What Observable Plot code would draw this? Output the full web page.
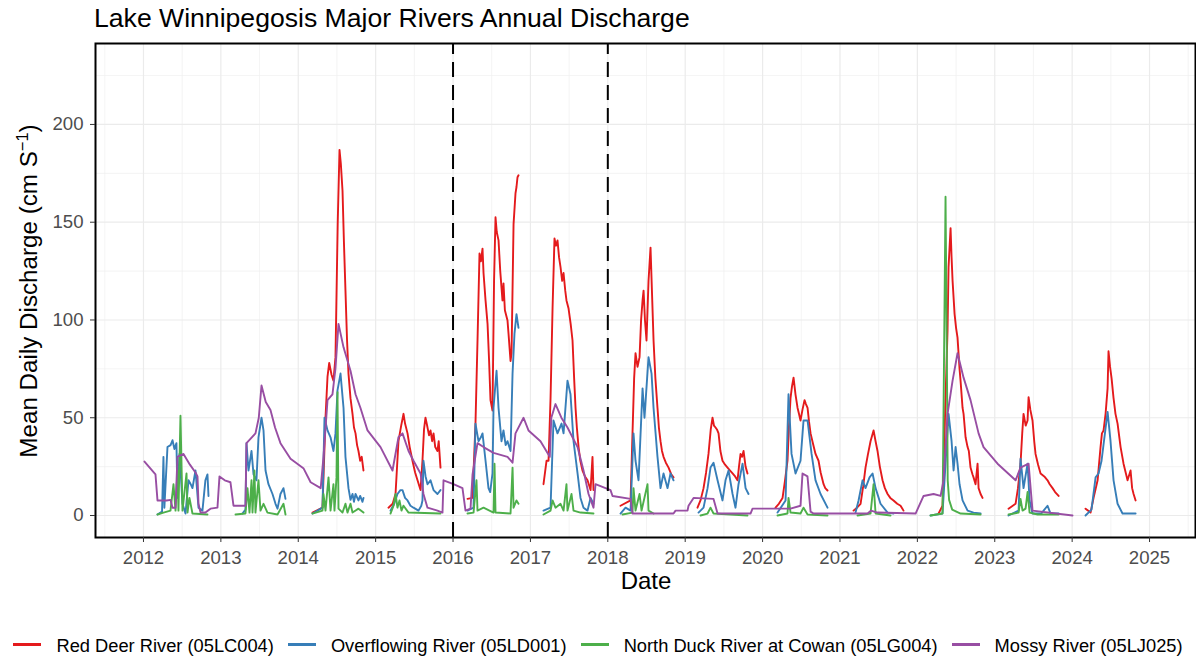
<!DOCTYPE html>
<html>
<head>
<meta charset="utf-8">
<script src="https://cdn.jsdelivr.net/npm/d3@7"></script>
<script src="https://cdn.jsdelivr.net/npm/@observablehq/plot@0.6"></script>
<style>
  body { margin: 0; background: #ffffff; }
  #wrap { position: relative; width: 1196px; height: 657px; font-family: "Liberation Sans", Arial, Helvetica, sans-serif; color: #000; overflow: hidden; }
  #chart { position: absolute; left: 0; top: 0; }
  #title { position: absolute; left: 94px; top: 4.5px; font-size: 26.6px; line-height: 1; white-space: nowrap; }
  #ylab { position: absolute; left: 29px; top: 291px; font-size: 24.2px; line-height: 1; white-space: nowrap; transform: translate(-50%, -50%) rotate(-90deg); }
  #ylab .sup { font-size: 0.68em; position: relative; top: -0.55em; line-height: 0; }
  #xlab { position: absolute; left: 646px; top: 568.5px; font-size: 24px; line-height: 1; white-space: nowrap; transform: translateX(-50%); }
  #legend { position: absolute; left: 0; top: 637px; width: 1196px; height: 19px; display: flex; justify-content: center; align-items: center; font-size: 18.3px; line-height: 1; white-space: nowrap; }
  #legend .item { display: flex; align-items: center; margin: 0 7px; }
  #legend .key { width: 28px; height: 2.8px; margin-right: 15px; position: relative; top: -2px; }
  svg g[aria-label="x-axis tick label"], svg g[aria-label="y-axis tick label"] { fill: #4D4D4D; }
  svg g[aria-label="x-axis tick"], svg g[aria-label="y-axis tick"] { stroke: #333333; }
</style>
</head>
<body>
<div id="wrap">
  <div id="chart"></div>
  <div id="title">Lake Winnipegosis Major Rivers Annual Discharge</div>
  <div id="ylab">Mean Daily Discharge (cm S<span class="sup">−1</span>)</div>
  <div id="xlab">Date</div>
  <div id="legend"></div>
</div>
<script>
// ---------- data (decimal year, mean daily discharge) ; null = gap ----------
const seriesNames = ["Red Deer River (05LC004)", "Overflowing River (05LD001)", "North Duck River at Cowan (05LG004)", "Mossy River (05LJ025)"];
const seriesColors = ["#E41A1C", "#377EB8", "#4DAF4A", "#984EA3"];
const xTicks = [2012, 2013, 2014, 2015, 2016, 2017, 2018, 2019, 2020, 2021, 2022, 2023, 2024, 2025];
const yTicks = [0, 50, 100, 150, 200];
const dashedYears = [2016, 2018];

const redDeer = [
  [2014.184,1.5],[2014.313,4],[2014.352,50],[2014.378,71],[2014.40,78],[2014.43,72],[2014.455,69],[2014.481,81],[2014.51,150],[2014.533,187],[2014.55,180],[2014.572,166],[2014.59,140],[2014.610,115],[2014.63,90],[2014.649,72.6],[2014.675,60],[2014.701,52],[2014.72,45],[2014.740,42],[2014.76,36],[2014.778,33],[2014.80,28],[2014.82,30],[2014.843,23], null,
  [2015.166,4],[2015.22,6],[2015.257,11],[2015.295,38],[2015.33,46],[2015.360,52],[2015.38,47],[2015.412,42],[2015.44,35],[2015.476,28],[2015.51,22],[2015.541,18],[2015.580,13],[2015.605,28],[2015.625,44],[2015.644,50],[2015.665,46],[2015.69,41],[2015.709,43.5],[2015.73,38],[2015.748,42],[2015.77,35],[2015.799,33],[2015.815,38],[2015.838,24.5], null,
  [2016.187,8.5],[2016.252,9],[2016.29,47],[2016.316,89],[2016.342,134],[2016.36,130],[2016.381,136.5],[2016.394,124],[2016.42,110],[2016.446,98],[2016.465,80],[2016.484,59],[2016.51,53.7],[2016.53,120],[2016.549,152.5],[2016.565,145],[2016.588,140.7],[2016.61,125],[2016.639,110],[2016.652,118.7],[2016.67,105],[2016.704,99.7],[2016.717,93],[2016.743,79],[2016.756,83],[2016.782,149],[2016.807,164.7],[2016.82,168],[2016.833,173],[2016.846,174], null,
  [2017.169,16],[2017.208,28],[2017.234,28],[2017.26,60],[2017.286,106],[2017.311,141.7],[2017.33,138],[2017.350,140.7],[2017.37,132],[2017.389,127],[2017.41,120],[2017.428,124],[2017.45,115],[2017.466,110],[2017.492,106],[2017.52,98],[2017.544,89.5],[2017.565,70],[2017.583,55],[2017.60,45],[2017.622,35],[2017.645,28],[2017.673,23],[2017.705,20],[2017.738,18],[2017.777,13],[2017.802,30],[2017.815,13], null,
  [2018.164,5],[2018.294,7.7],[2018.319,42],[2018.34,70],[2018.358,83],[2018.384,76],[2018.410,81],[2018.43,100],[2018.449,110],[2018.462,115],[2018.48,100],[2018.500,89.5],[2018.526,120],[2018.552,137],[2018.57,115],[2018.591,89.5],[2018.615,70],[2018.642,55],[2018.66,45],[2018.681,38],[2018.70,33],[2018.720,30],[2018.75,27],[2018.785,24.5],[2018.82,21],[2018.849,19.5], null,
  [2019.159,4],[2019.20,8],[2019.237,14],[2019.27,22],[2019.301,31.5],[2019.33,44],[2019.353,50],[2019.372,46],[2019.392,45],[2019.41,44],[2019.431,42],[2019.455,33],[2019.482,28],[2019.515,26],[2019.547,24.5],[2019.58,23],[2019.612,21.5],[2019.645,20],[2019.676,18],[2019.695,25],[2019.715,31.5],[2019.735,30],[2019.754,33],[2019.78,25],[2019.805,21.5], null,
  [2020.167,4],[2020.21,6],[2020.258,9],[2020.29,18],[2020.322,28],[2020.34,45],[2020.361,60],[2020.38,66],[2020.400,70.5],[2020.425,62],[2020.452,55],[2020.47,52],[2020.490,48.6],[2020.515,54],[2020.542,59],[2020.56,57],[2020.581,55],[2020.60,48],[2020.620,42],[2020.65,37],[2020.684,31.5],[2020.723,28],[2020.75,22],[2020.788,16],[2020.81,14],[2020.839,12.8], null,
  [2021.175,2.5],[2021.22,4],[2021.266,6],[2021.30,15],[2021.330,24.5],[2021.36,31],[2021.395,38],[2021.434,43.5],[2021.46,38],[2021.485,33],[2021.515,25],[2021.550,18],[2021.58,14],[2021.615,11],[2021.65,9],[2021.692,7.7],[2021.74,6],[2021.783,5],[2021.821,2.5], null,
  [2022.274,1],[2022.325,5],[2022.338,18],[2022.36,55],[2022.390,94.6],[2022.403,127],[2022.429,147],[2022.442,132],[2022.455,120],[2022.481,103],[2022.50,96],[2022.519,91],[2022.545,75],[2022.558,69],[2022.584,55],[2022.597,52],[2022.623,40],[2022.649,35],[2022.665,33],[2022.687,24.5],[2022.713,21],[2022.726,19.5],[2022.752,16],[2022.778,26.5],[2022.791,14],[2022.817,11],[2022.842,9], null,
  [2023.178,3.5],[2023.269,6],[2023.30,14],[2023.333,26.5],[2023.355,42],[2023.372,52],[2023.40,46],[2023.424,48.6],[2023.437,60.5],[2023.46,54],[2023.488,48.6],[2023.51,38],[2023.527,31.5],[2023.56,26],[2023.592,21.5],[2023.64,20],[2023.682,18],[2023.71,16],[2023.747,14],[2023.78,12],[2023.825,10], null,
  [2024.173,3.5],[2024.238,1.5],[2024.277,9],[2024.329,18],[2024.367,35],[2024.385,42],[2024.406,43.5],[2024.432,52],[2024.458,65],[2024.470,84],[2024.49,76],[2024.510,70],[2024.535,60],[2024.56,52],[2024.587,47],[2024.626,35],[2024.664,26.5],[2024.716,18],[2024.755,23],[2024.775,14],[2024.794,11],[2024.820,7.7]
];

const overflowing = [
  [2012.181,0.5],[2012.24,2],[2012.258,30],[2012.27,4],[2012.31,35],[2012.35,36],[2012.375,38.5],[2012.40,34],[2012.426,37],[2012.439,9],[2012.465,31.5],[2012.485,19],[2012.504,6],[2012.543,1],[2012.582,18],[2012.61,16],[2012.633,14],[2012.672,23],[2012.711,4],[2012.762,2.5],[2012.80,18],[2012.827,21],[2012.84,10], null,
  [2013.279,1],[2013.318,3],[2013.331,37],[2013.357,23],[2013.396,33],[2013.422,21],[2013.460,18],[2013.486,40],[2013.525,50],[2013.551,43.5],[2013.577,23],[2013.615,16],[2013.667,11],[2013.706,6],[2013.732,3.5],[2013.770,11],[2013.809,14],[2013.835,8.5], null,
  [2014.184,1],[2014.313,4],[2014.339,50],[2014.378,43.5],[2014.417,40],[2014.455,33],[2014.481,42],[2014.507,64],[2014.546,72.6],[2014.585,55],[2014.610,30],[2014.649,14],[2014.675,8],[2014.701,11],[2014.72,7],[2014.740,11],[2014.778,7.7],[2014.80,10],[2014.830,7],[2014.843,9], null,
  [2015.192,2.5],[2015.24,6],[2015.282,11],[2015.32,13],[2015.347,13],[2015.38,9],[2015.412,7.7],[2015.45,5],[2015.489,4],[2015.554,2.5],[2015.59,5],[2015.605,7.7],[2015.618,28],[2015.645,20],[2015.670,16],[2015.709,18],[2015.748,13],[2015.799,11],[2015.838,13], null,
  [2016.187,2.5],[2016.265,4],[2016.290,47],[2016.329,38],[2016.36,40],[2016.381,42],[2016.420,28],[2016.458,14],[2016.48,12],[2016.510,21.5],[2016.523,55],[2016.562,74],[2016.588,55],[2016.626,38],[2016.652,43.5],[2016.68,36],[2016.704,38],[2016.743,33],[2016.769,72.6],[2016.794,93],[2016.820,103],[2016.846,96], null,
  [2017.169,2.5],[2017.260,4],[2017.298,48.6],[2017.350,42],[2017.402,47],[2017.428,42],[2017.479,69],[2017.518,62],[2017.557,38],[2017.609,21.5],[2017.647,9],[2017.686,4],[2017.738,2.5],[2017.777,9],[2017.815,6], null,
  [2018.164,1],[2018.229,4],[2018.294,2.5],[2018.332,42],[2018.358,28],[2018.397,18],[2018.449,65],[2018.474,50],[2018.526,81],[2018.565,72.6],[2018.591,55],[2018.642,30],[2018.681,14],[2018.720,21.5],[2018.772,14],[2018.810,21.5],[2018.849,18], null,
  [2019.172,1.5],[2019.237,4],[2019.289,14],[2019.327,24.5],[2019.366,27],[2019.418,18],[2019.482,7.7],[2019.521,18],[2019.560,23],[2019.612,11],[2019.650,4],[2019.689,16],[2019.741,26.5],[2019.780,14],[2019.818,11], null,
  [2020.193,1.5],[2020.297,7.7],[2020.335,62],[2020.374,31.5],[2020.426,21.5],[2020.490,28],[2020.529,48.6],[2020.581,48.6],[2020.633,31.5],[2020.684,18],[2020.749,11],[2020.839,4], null,
  [2021.201,1.5],[2021.240,7.7],[2021.292,18],[2021.330,14],[2021.382,19.5],[2021.421,21.5],[2021.460,14],[2021.524,6],[2021.615,1.5],[2021.692,1], null,
  [2022.170,0],[2022.325,1],[2022.364,26.5],[2022.403,52],[2022.442,38],[2022.468,23],[2022.494,35],[2022.519,26.5],[2022.545,16],[2022.584,7.7],[2022.649,2.5],[2022.726,1.5],[2022.817,1], null,
  [2023.178,0],[2023.308,2.5],[2023.333,29],[2023.372,14],[2023.424,26.5],[2023.45,7.7],[2023.488,1],[2023.60,1],[2023.682,5],[2023.721,1],[2023.825,1], null,
  [2024.173,0],[2024.25,3],[2024.303,19.5],[2024.341,21.5],[2024.38,28],[2024.458,53],[2024.496,38],[2024.535,18],[2024.587,6],[2024.651,1],[2024.820,1]
];

const northDuck = [
  [2012.181,0.5],[2012.258,1.5],[2012.349,2.5],[2012.388,16],[2012.414,2.5],[2012.439,23],[2012.452,2.5],[2012.478,51],[2012.504,2.5],[2012.556,21.5],[2012.569,1.5],[2012.594,9],[2012.633,1],[2012.827,0.5], null,
  [2013.189,0.5],[2013.318,1],[2013.344,14],[2013.370,1.5],[2013.396,18],[2013.409,1.5],[2013.434,23],[2013.447,1.5],[2013.486,18],[2013.512,2.5],[2013.551,6],[2013.602,1.5],[2013.732,0.5],[2013.809,6],[2013.835,0.5], null,
  [2014.184,1],[2014.313,2.5],[2014.326,11],[2014.352,2.5],[2014.391,19.5],[2014.417,2.5],[2014.455,16],[2014.468,2.5],[2014.494,19.5],[2014.507,63],[2014.520,3.5],[2014.572,1.5],[2014.610,6],[2014.636,1.5],[2014.675,6],[2014.701,1.5],[2014.778,3.5],[2014.843,1.5], null,
  [2015.192,1],[2015.231,5],[2015.257,11],[2015.282,4],[2015.308,7.7],[2015.334,2.5],[2015.360,5],[2015.425,1.5],[2015.838,1], null,
  [2016.187,1],[2016.265,1.5],[2016.303,18],[2016.316,2.5],[2016.394,4],[2016.523,1.5],[2016.536,26.5],[2016.549,1.5],[2016.743,1],[2016.769,24.5],[2016.782,4],[2016.820,7.7],[2016.846,6], null,
  [2017.169,0.5],[2017.260,2.5],[2017.286,7.7],[2017.324,4],[2017.389,6],[2017.428,2.5],[2017.466,16],[2017.479,2.5],[2017.531,11],[2017.557,2.5],[2017.647,1.5],[2017.815,1], null,
  [2018.190,0.5],[2018.319,1.5],[2018.332,14],[2018.358,2.5],[2018.410,11],[2018.436,2.5],[2018.513,16],[2018.526,2.5],[2018.591,1], null,
  [2019.198,0],[2019.289,1],[2019.327,4],[2019.366,1],[2019.805,0], null,
  [2020.193,0],[2020.322,1],[2020.335,9],[2020.361,1.5],[2020.490,1],[2020.529,4],[2020.581,0.5],[2020.839,0], null,
  [2021.227,0],[2021.395,1],[2021.434,16],[2021.460,1],[2021.653,0], null,
  [2022.170,0],[2022.325,1],[2022.338,52],[2022.364,163],[2022.385,60],[2022.392,18],[2022.41,8],[2022.45,3],[2022.558,1],[2022.817,0.5], null,
  [2023.178,0.5],[2023.308,1.5],[2023.333,8.5],[2023.359,2.5],[2023.398,3.5],[2023.424,12],[2023.450,1.5],[2023.553,0.5],[2023.825,0.5]
];

const mossy = [
  [2012.013,27.6],[2012.155,21],[2012.181,7.7],[2012.30,7.7],[2012.349,8],[2012.375,4],[2012.414,4],[2012.439,30],[2012.517,31.5],[2012.60,26],[2012.672,22],[2012.698,20],[2012.711,6],[2012.737,1.5],[2012.80,1.5],[2012.866,3.5],[2012.956,4],[2012.982,20],[2013.05,18],[2013.124,17],[2013.163,5],[2013.318,5],[2013.331,37],[2013.40,40],[2013.447,42],[2013.49,50],[2013.525,66.5],[2013.58,58],[2013.641,54],[2013.70,45],[2013.770,37],[2013.900,29],[2014.07,24],[2014.16,17],[2014.29,14],[2014.326,30],[2014.378,59],[2014.442,62],[2014.48,75],[2014.52,98],[2014.585,86],[2014.675,74],[2014.74,62],[2014.804,55],[2014.895,43.5],[2015.063,35],[2015.218,23],[2015.295,40],[2015.347,42],[2015.425,33],[2015.489,28],[2015.580,21.5],[2015.618,11],[2015.670,4],[2015.799,2.5],[2015.864,1.5],[2015.877,18],[2016.006,16],[2016.122,14],[2016.161,2.5],[2016.226,3.5],[2016.252,21],[2016.316,37],[2016.394,35],[2016.523,32],[2016.704,30],[2016.769,27],[2016.807,42],[2016.911,50],[2016.975,43.5],[2017.130,38],[2017.25,30],[2017.27,50],[2017.324,57],[2017.40,50],[2017.479,45],[2017.609,35],[2017.686,23],[2017.751,11],[2017.815,4],[2017.841,16],[2018.035,13],[2018.061,10],[2018.294,8.5],[2018.319,1],[2018.849,1],[2018.875,2.5],[2019.030,2.5],[2019.043,5],[2019.108,9],[2019.366,8.5],[2019.418,1],[2019.844,1],[2019.870,3.5],[2020.36,3.5],[2020.49,5],[2020.516,21.5],[2020.58,20],[2020.62,2],[2020.658,1],[2021.356,1],[2021.40,2.5],[2021.485,1.5],[2021.977,1],[2022.080,10],[2022.209,11],[2022.300,10],[2022.338,18],[2022.390,52],[2022.455,69],[2022.519,83],[2022.597,70.5],[2022.687,59],[2022.791,42],[2022.855,35],[2023.036,26.5],[2023.269,18],[2023.333,24.5],[2023.437,26.5],[2023.488,2.5],[2024.005,0]
];

// ---------- build long table ----------
const seriesData = [redDeer, overflowing, northDuck, mossy];
const rows = [];
seriesNames.forEach((name, i) => {
  for (const p of seriesData[i]) {
    rows.push(p ? {series: name, t: p[0], v: p[1]} : {series: name, t: NaN, v: NaN});
  }
});

const xDomain = [2011.38, 2025.594];
const yDomain = [-11.25, 241.4];
const xMinor = xTicks.slice(0, -1).map(d => d + 0.5).concat([2011.5, 2025.5]);
const yMinor = [25, 75, 125, 175, 225];

const chart = Plot.plot({
  width: 1196,
  height: 610,
  marginLeft: 95,
  marginRight: 1,
  marginTop: 43,
  marginBottom: 73,
  style: {fontFamily: '"Liberation Sans", Arial, Helvetica, sans-serif', background: "transparent", color: "#000", overflow: "visible"},
  x: {domain: xDomain, axis: null},
  y: {domain: yDomain, axis: null},
  color: {domain: seriesNames, range: seriesColors},
  marks: [
    Plot.gridX(xMinor, {stroke: "#EFEFEF", strokeOpacity: 1, strokeWidth: 0.7}),
    Plot.gridY(yMinor, {stroke: "#EFEFEF", strokeOpacity: 1, strokeWidth: 0.7}),
    Plot.gridX(xTicks, {stroke: "#EBEBEB", strokeOpacity: 1, strokeWidth: 1.2}),
    Plot.gridY(yTicks, {stroke: "#EBEBEB", strokeOpacity: 1, strokeWidth: 1.2}),
    Plot.line(rows, {x: "t", y: "v", z: "series", stroke: "series", strokeWidth: 1.9}),
    Plot.ruleX(dashedYears, {y1: yDomain[0], y2: yDomain[1], stroke: "#000", strokeWidth: 2, strokeDasharray: "15,8"}),
    Plot.frame({stroke: "#000", strokeWidth: 2}),
    Plot.axisX(xTicks, {tickSize: 5, tickPadding: 8, fontSize: 18.6, tickFormat: d => String(d), label: null}),
    Plot.axisY(yTicks, {tickSize: 5, tickPadding: 7, fontSize: 18.6, label: null})
  ]
});
document.getElementById("chart").appendChild(chart);

// ---------- legend ----------
const legend = document.getElementById("legend");
seriesNames.forEach((name, i) => {
  const item = document.createElement("div");
  item.className = "item";
  const key = document.createElement("span");
  key.className = "key";
  key.style.background = seriesColors[i];
  const label = document.createElement("span");
  label.textContent = name;
  item.appendChild(key);
  item.appendChild(label);
  legend.appendChild(item);
});
</script>
</body>
</html>
